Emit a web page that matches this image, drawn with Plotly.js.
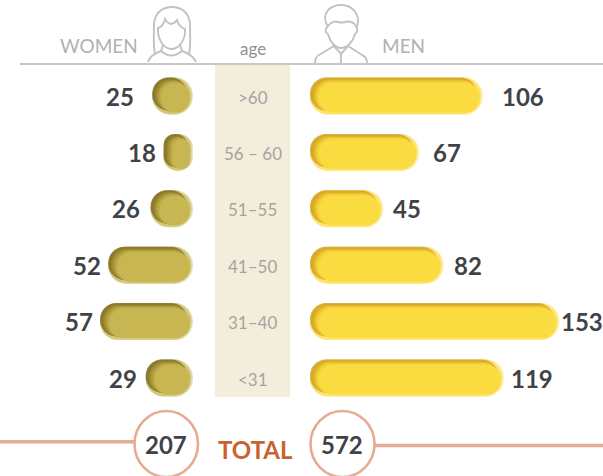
<!DOCTYPE html>
<html><head><meta charset="utf-8">
<script src="https://cdn.plot.ly/plotly-3.0.1.min.js"></script>
<style>html,body{margin:0;padding:0;background:#fff;overflow:hidden}</style>
</head><body><div id="chart" style="width:603px;height:476px"></div>
<script>
// ---- data ----
const ageGroups = ['>60', '56 – 60', '51-55', '41-50', '31-40', '<31'];
const ageLabels = ['&gt;60', '56 – 60', '51–55', '41–50', '31–40', '&lt;31'];
const womenValues = [25, 18, 26, 52, 57, 29];
const menValues = [106, 67, 45, 82, 153, 119];
const womenTotal = 207;
const menTotal = 572;
// ---- label nudges (px) ----
const womenLabelGap = [16.5, 6, 9, 5, 5, 7];
const menLabelGap = [17, 11.5, 8, 8, 0, 5];
// ---- geometry ----
const W = 603, H = 476;
const SCALE = 1.63;            // px per person
const ZERO_W = 193, ZERO_M = 310;
const ROW0 = 96, ROWSTEP = 56.4, BAR_H = 37;
// bevel layers: insets in px, from the outermost to the innermost
const insets = [
  {l:0, r:0, t:0, b:0},
  {l:0, r:1, t:0, b:0},
  {l:0, r:2, t:0, b:0.5},
  {l:0, r:6, t:0, b:4},
  {l:1, r:6, t:1, b:4},
  {l:3, r:6, t:2, b:3.5},
  {l:5, r:5, t:3, b:3},
  {l:7, r:4.5, t:4, b:2.5},
  {l:9, r:3, t:5.5, b:2}
];
const menColors = ['#fdf1b8', '#fcea90', '#fce36c', '#d9b04a', '#d6a726', '#e0b42a', '#ecc533', '#f6d43b', '#fadc40'];
const womenColors = ['#e6e2bf', '#dcd69c', '#d2c87c', '#8f7f38', '#8c7829', '#9c8930', '#ad9b3b', '#bcab47', '#c7b651'];

const traces = [];
function addLayers(values, colors, xaxis, reversed) {
  insets.forEach((L, k) => {
    // inset at the zero end and at the value end, in axis units
    const inZero = (reversed ? L.r : L.l) / SCALE;
    const inEnd = (reversed ? L.l : L.r) / SCALE;
    traces.push({
      type: 'bar', orientation: 'h', xaxis: xaxis, yaxis: 'y',
      y: ageGroups, x: values.map(v => v - inEnd - inZero), base: values.map(() => inZero),
      width: (BAR_H - L.t - L.b) / ROWSTEP, offset: (-BAR_H / 2 + L.t) / ROWSTEP,
      marker: {color: colors[k], line: {width: 0}},
      hoverinfo: 'skip', showlegend: false
    });
  });
}
addLayers(womenValues, womenColors, 'x', true);
addLayers(menValues, menColors, 'x2', false);

const GREY = '#b3b6b4', ICON = '#c0c3c1', PEACH = '#e6ab93', DARK = '#3f4347';
const px = {xref: 'x3', yref: 'y3'};
const iconLine = {color: ICON, width: 1.9};
const shapes = [
  {...px, type:'rect', x0:215, x1:290, y0:65, y1:397, fillcolor:'#f3eedc', line:{width:0}, layer:'below'},
  {...px, type:'line', x0:20, x1:603, y0:64, y1:64, line:{color:GREY, width:1.6}},
  {...px, type:'line', x0:0, x1:134, y0:441.7, y1:441.7, line:{color:PEACH, width:3.6}},
  {...px, type:'line', x0:374, x1:603, y0:445.5, y1:445.5, line:{color:PEACH, width:3.6}},
  {...px, type:'circle', x0:134.5, x1:198, y0:411, y1:477, fillcolor:'#fff', line:{color:PEACH, width:2.6}},
  {...px, type:'circle', x0:310.5, x1:374.5, y0:411, y1:477, fillcolor:'#fff', line:{color:PEACH, width:2.6}},
  // woman icon
  {...px, type:'path', line:iconLine, path:'M155 54 C153 46 154 34 154 24 C155 12 163 7 172 7 C181 7 189 12 190 24 C190 34 191 46 189 54'},
  {...px, type:'path', line:iconLine, path:'M158 32 L158 28 Q163 27 165 19 Q168 24 171 24 Q174 24 177 20 Q179 27 185 29 L185 33 C184 42 178 49 171.5 49 C165 49 159 42 158 32 Z'},
  {...px, type:'path', line:iconLine, path:'M148 62 Q150 55 161 51 L163 45 M161 51 Q171 60 182 51 L180 45 M182 51 Q193 55 196 62'},
  // man icon
  {...px, type:'path', line:iconLine, path:'M328 27 C320 14 330 5 341 5 C352 5 361 14 357 27'},
  {...px, type:'path', line:iconLine, path:'M328 26 Q333 20 338 22 Q341 23 345 22 Q352 20 356 26 Q359 31 355 34 C353 42 347 48 341 48 C335 48 330 42 328 34 Q323 31 328 26 Z'},
  {...px, type:'path', line:iconLine, path:'M315 63 Q315 57 319 55 L334 46 L341 54 L348 46 L362 55 Q367 57 367 63 M341 54 L341 63'}
];

const annotations = [];
function note(text, x, y, size, color, anchor) {
  annotations.push({...px, text, x, y, showarrow:false, xanchor:anchor, yanchor:'middle',
    font:{family:'Lato, "Open Sans", sans-serif', size, color}});
}
note('WOMEN', 57.5, 45, 19, '#aeb2b0', 'left');
note('MEN', 380, 45, 19, '#aeb2b0', 'left');
note('age', 252.5, 48, 17, '#8f9192', 'center');
note('<b>TOTAL</b>', 255, 449, 24, '#c9622f', 'center');
note('<b>' + womenTotal + '</b>', 166, 444, 24, DARK, 'center');
note('<b>' + menTotal + '</b>', 342, 444, 24, DARK, 'center');
ageGroups.forEach((g, i) => {
  annotations.push({xref:'x3', yref:'y', x:252.5, y:g, text:ageLabels[i], showarrow:false,
    xanchor:'center', yanchor:'middle', yshift:-1, font:{family:'Lato, sans-serif', size:17, color:'#a3a49f'}});
  annotations.push({xref:'x', yref:'y', x:womenValues[i], y:g, text:'<b>'+womenValues[i]+'</b>', showarrow:false,
    xanchor:'right', yanchor:'middle', xshift:-womenLabelGap[i],
    font:{family:'Lato, sans-serif', size:24, color:DARK}});
  annotations.push({xref:'x2', yref:'y', x:menValues[i], y:g, text:'<b>'+menValues[i]+'</b>', showarrow:false,
    xanchor:'left', yanchor:'middle', xshift:menLabelGap[i],
    font:{family:'Lato, sans-serif', size:24, color:DARK}});
});

const hidden = {visible:false, fixedrange:true};
const layout = {
  width:W, height:H, margin:{l:0,r:0,t:0,b:0,pad:0},
  paper_bgcolor:'#fff', plot_bgcolor:'rgba(0,0,0,0)',
  barmode:'overlay', barcornerradius:18, showlegend:false,
  xaxis:{...hidden, domain:[0, ZERO_W/W], range:[ZERO_W/SCALE, 0], anchor:'y'},
  xaxis2:{...hidden, domain:[ZERO_M/W, 1], range:[0, (W-ZERO_M)/SCALE], anchor:'y'},
  xaxis3:{...hidden, domain:[0,1], range:[0,W], anchor:'y3'},
  yaxis:{...hidden, domain:[0,1], type:'category', categoryorder:'array', categoryarray:ageGroups,
    range:[(H-ROW0)/ROWSTEP, -ROW0/ROWSTEP], anchor:'x'},
  yaxis3:{...hidden, domain:[0,1], range:[H,0], anchor:'x3', overlaying:'y'},
  shapes, annotations
};
// an empty trace keeps the pixel axes alive
traces.unshift({type:'scatter', mode:'none', x:[0,W], y:[0,H], xaxis:'x3', yaxis:'y3', hoverinfo:'skip', showlegend:false});
Plotly.newPlot('chart', traces, layout, {displayModeBar:false, staticPlot:true});
</script></body></html>
